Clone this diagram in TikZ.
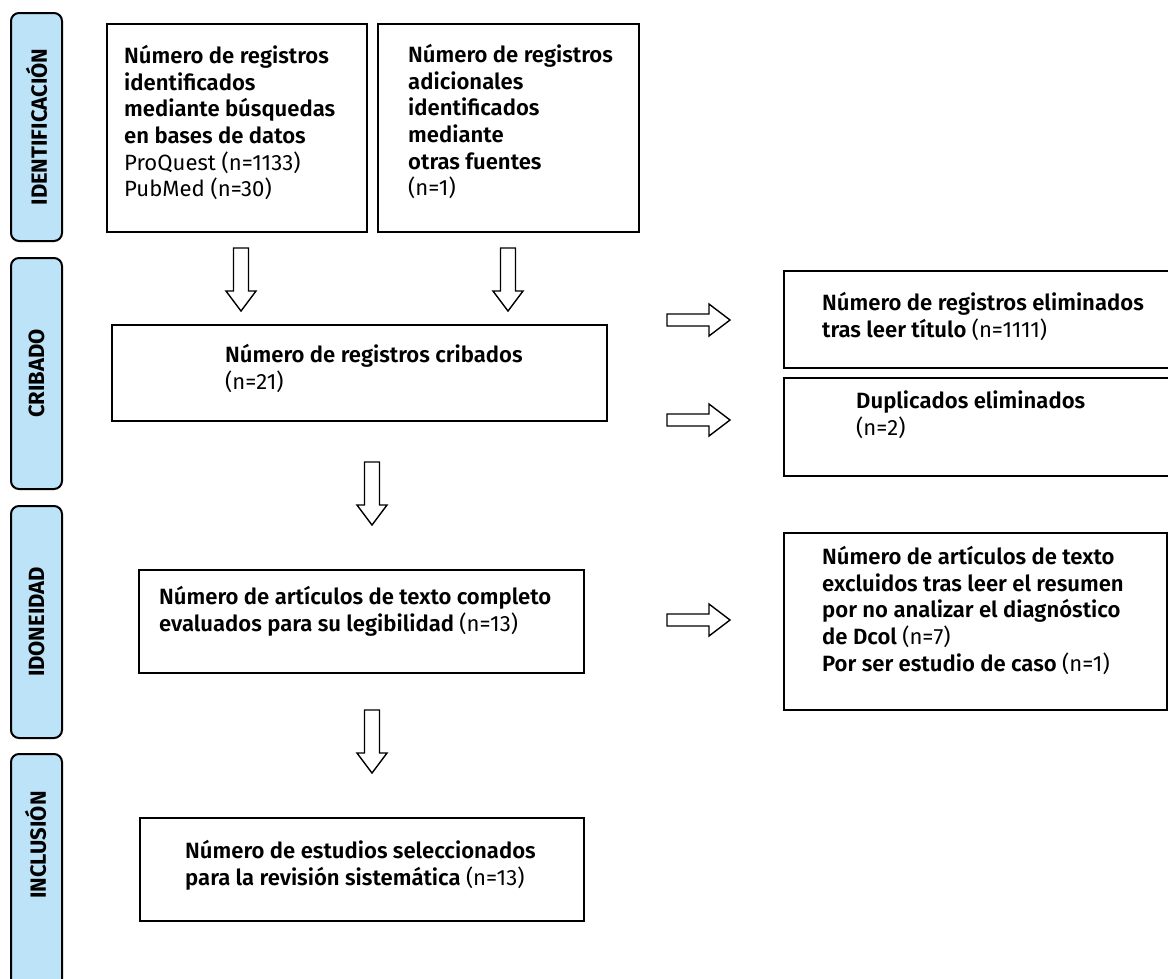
\documentclass[tikz,border=0pt]{standalone}
\usepackage{fontspec}
\setmainfont{Fira Sans}[BoldFont={Fira Sans SemiBold}]
\newfontfamily\tabfont{Fira Sans}
\newcommand{\plainpart}[1]{{\mdseries #1}}
\definecolor{tabblue}{RGB}{189,227,248}
\tikzset{
  box/.style={draw=black, line width=2.2pt, inner sep=0pt, anchor=north west},
  tabbox/.style={draw=black, line width=2pt, fill=tabblue, rounded corners=8pt, inner sep=0pt, anchor=north west},
  tablabel/.style={font=\tabfont\fontsize{22}{24}\selectfont\bfseries, rotate=90, inner sep=0pt},
  txt/.style={font=\fontsize{22.1}{26.7}\selectfont\bfseries, align=left, anchor=north west, inner sep=0pt, execute at begin node={\rule{0pt}{24pt}}},
  arrline/.style={draw=black, line width=1.4pt, fill=white, line join=miter},
  downarr/.pic={\path[arrline] (-7.5,0) -- (7.5,0) -- (7.5,43) -- (15,43) -- (0,63) -- (-15,43) -- (-7.5,43) -- cycle;},
  rightarr/.pic={\path[arrline] (0,-6) -- (42,-6) -- (42,-16) -- (63,0) -- (42,16) -- (42,6) -- (0,6) -- cycle;}
}
\begin{document}
\begin{tikzpicture}[x=1pt,y=-1pt]
\useasboundingbox (0,0) rectangle (1168,978);
\clip (0,0) rectangle (1168,978);
% phase tabs
\node[tabbox, minimum width=51, minimum height=228] (tab1) at (10,12) {};
\node[tablabel] (tab1l) at (tab1.center) {IDENTIFICACIÓN};
\node[tabbox, minimum width=51, minimum height=231] (tab2) at (10,257) {};
\node[tablabel] (tab2l) at (tab2.center) {CRIBADO};
\node[tabbox, minimum width=51, minimum height=232] (tab3) at (10,505) {};
\node[tablabel] (tab3l) at (tab3.center) {IDONEIDAD};
\node[tabbox, minimum width=51, minimum height=250] (tab4) at (10,753) {};
\node[tablabel] (tab4l) at (35.5,845) {INCLUSIÓN};
% boxes (text nodes placed at first baseline minus 24)
\node[box, minimum width=260, minimum height=208] (b1) at (106,23) {};
\node[txt] (b1t) at (124,45) {Número de registros\\identificados\\mediante búsquedas\\en bases de datos\\\plainpart{ProQuest (n=1133)}\\\plainpart{PubMed (n=30)}};
\node[box, minimum width=261, minimum height=208] (b2) at (377,23) {};
\node[txt] (b2t) at (408,44) {Número de registros\\adicionales\\identificados\\mediante\\otras fuentes\\\plainpart{(n=1)}};
\node[box, minimum width=495, minimum height=96] (b3) at (111,324) {};
\node[txt] (b3t) at (225,344) {Número de registros cribados\\\plainpart{(n=21)}};
\node[box, minimum width=400, minimum height=97] (r1) at (783,270) {};
\node[txt] (r1t) at (822,292) {Número de registros eliminados\\tras leer título \plainpart{(n=1111)}};
\node[box, minimum width=400, minimum height=98] (r2) at (783,377) {};
\node[txt] (r2t) at (856,391) {Duplicados eliminados\\\plainpart{(n=2)}};
\node[box, minimum width=383, minimum height=177] (r3) at (783,532) {};
\node[txt] (r3t) at (822,546) {Número de artículos de texto\\excluidos tras leer el resumen\\por no analizar el diagnóstico\\de Dcol \plainpart{(n=7)}\\Por ser estudio de caso \plainpart{(n=1)}};
\node[box, minimum width=445, minimum height=103] (b4) at (138,569) {};
\node[txt] (b4t) at (159,586) {Número de artículos de texto completo\\evaluados para su legibilidad \plainpart{(n=13)}};
\node[box, minimum width=444, minimum height=103] (b5) at (139,817) {};
\node[txt] (b5t) at (185,840) {Número de estudios seleccionados\\para la revisión sistemática \plainpart{(n=13)}};
% block arrows
\pic (a1) at (241,248) {downarr};
\pic (a2) at (508,248) {downarr};
\pic (a3) at (372,462) {downarr};
\pic (a4) at (372,710) {downarr};
\pic (a5) at (667,320) {rightarr};
\pic (a6) at (667,420) {rightarr};
\pic (a7) at (667,620) {rightarr};
\end{tikzpicture}
\end{document}
